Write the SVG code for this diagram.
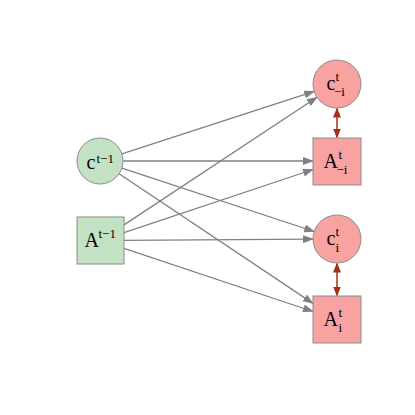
<svg xmlns="http://www.w3.org/2000/svg" width="415" height="415" viewBox="0 0 415 415">
<defs>
<marker id="ag" markerWidth="11" markerHeight="8" refX="10" refY="4" orient="auto" markerUnits="userSpaceOnUse"><path d="M0,0 L11,4 L0,8 z" fill="#808080"/></marker>
<marker id="ar" markerWidth="10" markerHeight="8" refX="9" refY="4" orient="auto-start-reverse" markerUnits="userSpaceOnUse"><path d="M0,0 L10,4 L0,8 z" fill="#a13217"/></marker>
</defs>
<style>
.g{fill:#c3e2c3;stroke:#8c8c8c;stroke-width:1}
.r{fill:#f8a2a2;stroke:#8c8c8c;stroke-width:1}
.e{stroke:#808080;stroke-width:1.3;fill:none;marker-end:url(#ag)}
.er{stroke:#a13217;stroke-width:1.5;fill:none;marker-start:url(#ar);marker-end:url(#ar)}
text{font-family:"Liberation Serif","Times New Roman",serif;fill:#000}
.m{font-size:20px}
.s{font-size:13px}
</style>
<rect width="415" height="415" fill="#fff"/>
<g id="connectors">
<line class="e" x1="121.9" y1="153.9" x2="314.2" y2="91.4"/>
<line class="e" x1="123" y1="161" x2="313" y2="161"/>
<line class="e" x1="121.9" y1="168.2" x2="314.2" y2="231.5"/>
<line class="e" x1="119.1" y1="173.8" x2="313" y2="303.4"/>
<line class="e" x1="124" y1="224.9" x2="317" y2="97.2"/>
<line class="e" x1="124" y1="232.6" x2="313" y2="169.5"/>
<line class="e" x1="124" y1="240.3" x2="313" y2="239.1"/>
<line class="e" x1="124" y1="248.3" x2="313" y2="311.5"/>
<line class="er" x1="337" y1="108.5" x2="337" y2="137.5"/>
<line class="er" x1="337" y1="263.5" x2="337" y2="295.5"/>
</g>
<g id="c_prev">
<circle class="g" cx="100" cy="161" r="23"/>
<text x="86.5" y="169" class="m">c</text><text x="96.5" y="163" class="s">t−1</text>
</g>
<g id="A_prev">
<rect class="g" x="77" y="217" width="47" height="47"/>
<text x="84.5" y="247" class="m">A</text><text x="98.5" y="238" class="s">t−1</text>
</g>
<g id="c_minus_i">
<circle class="r" cx="337" cy="84" r="24"/>
<text x="326.5" y="90" class="m">c</text><text x="335.5" y="81" class="s">t</text><text x="334" y="96" class="s">−i</text>
</g>
<g id="A_minus_i">
<rect class="r" x="313" y="138" width="48" height="47"/>
<text x="323.5" y="168" class="m">A</text><text x="338.5" y="159" class="s">t</text><text x="336.5" y="174" class="s">−i</text>
</g>
<g id="c_i">
<circle class="r" cx="337" cy="239" r="24"/>
<text x="326.5" y="245" class="m">c</text><text x="335.5" y="236" class="s">t</text><text x="335.5" y="252" class="s">i</text>
</g>
<g id="A_i">
<rect class="r" x="313" y="296" width="48" height="47"/>
<text x="323.5" y="326" class="m">A</text><text x="338.5" y="317" class="s">t</text><text x="338.5" y="332" class="s">i</text>
</g>
</svg>
